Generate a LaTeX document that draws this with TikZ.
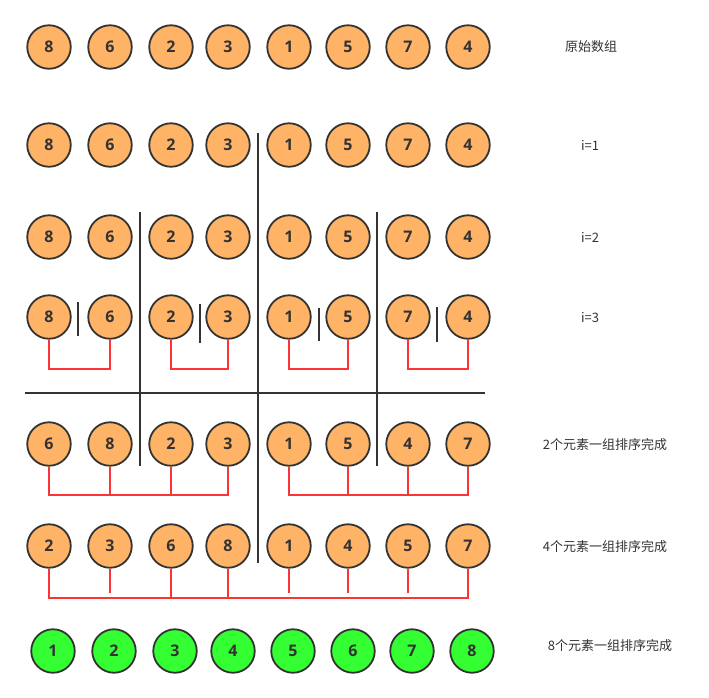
\documentclass[tikz,border=0pt]{standalone}
\usepackage{fontspec}
\setmainfont{Open Sans}
\newfontfamily\cjk{Noto Sans CJK SC}
\definecolor{ballorange}{HTML}{FFB366}
\definecolor{ballgreen}{HTML}{33FF33}
\definecolor{linered}{HTML}{FF3333}
\definecolor{darkgray}{HTML}{333333}
\tikzset{
  ball/.style={circle, draw=darkgray, line width=1.8pt, fill=ballorange,
    minimum size=43.5pt, inner sep=0pt, text=darkgray,
    font=\fontsize{16}{16}\selectfont\bfseries},
  doneball/.style={ball, fill=ballgreen},
  divider/.style={darkgray, line width=1.6pt},
  merge/.style={linered, line width=1.6pt},
  caption/.style={text=darkgray, font=\cjk\fontsize{13}{15}\selectfont}
}
\begin{document}
\begin{tikzpicture}[x=1pt,y=-1pt]
  \useasboundingbox (0,0) rectangle (709,697);
  % rows of balls
  \foreach \r/\y/\vals in {a/47/{8,6,2,3,1,5,7,4},b/145/{8,6,2,3,1,5,7,4},c/237/{8,6,2,3,1,5,7,4},d/317/{8,6,2,3,1,5,7,4},e/444/{6,8,2,3,1,5,4,7},f/546/{2,3,6,8,1,4,5,7}}
  {
    \foreach \v [count=\k] in \vals
    {
      \pgfmathsetmacro{\xx}{{49,110,171,228,289,348,408,468}[\k-1]}
      \node[ball] (\r\k) at (\xx,\y) {\v};
    }
  }
  \foreach \v/\x in {1/53,2/114,3/175,4/233,5/293,6/353,7/412,8/472}
  {
    \node[doneball] (g\v) at (\x,651) {\v};
  }

  % dividers
  \draw[divider] (258,133) -- (258,563);
  \draw[divider] (140,212) -- (140,466);
  \draw[divider] (377,212) -- (377,466);
  \draw[divider] (25,393) -- (485,393);
  \draw[divider] (78,302) -- (78,336);
  \draw[divider] (200,304) -- (200,343);
  \draw[divider] (319,308) -- (319,341);
  \draw[divider] (437,307) -- (437,342);

  % merge brackets
  \coordinate (dbar) at (0,369);
  \coordinate (ebar) at (0,495);
  \coordinate (fbar) at (0,598);
  \coordinate (fshort) at (0,593);
  \foreach \i/\j in {1/2,3/4,5/6,7/8}
  {
    \draw[merge] (d\i.south) -- (d\i.south |- dbar) -| (d\j.south);
  }
  \draw[merge] (e1.south) -- (e1.south |- ebar) -| (e4.south);
  \draw[merge] (e5.south) -- (e5.south |- ebar) -| (e8.south);
  \foreach \i in {2,3,6,7}
  {
    \draw[merge] (e\i.south) -- (e\i.south |- ebar);
  }
  \draw[merge] (f1.south) -- (f1.south |- fbar) -| (f8.south);
  \foreach \i in {3,4}
  {
    \draw[merge] (f\i.south) -- (f\i.south |- fbar);
  }
  \foreach \i in {2,5,6,7}
  {
    \draw[merge] (f\i.south) -- (f\i.south |- fshort);
  }

  % captions
  \node[caption] (lbla) at (591,47) {原始数组};
  \node[caption] (lblb) at (590,145) {i=1};
  \node[caption] (lblc) at (590,237) {i=2};
  \node[caption] (lbld) at (590,318) {i=3};
  \node[caption] (lble) at (605,445) {2个元素一组排序完成};
  \node[caption] (lblf) at (605,547) {4个元素一组排序完成};
  \node[caption] (lblg) at (610,646) {8个元素一组排序完成};
\end{tikzpicture}
\end{document}
